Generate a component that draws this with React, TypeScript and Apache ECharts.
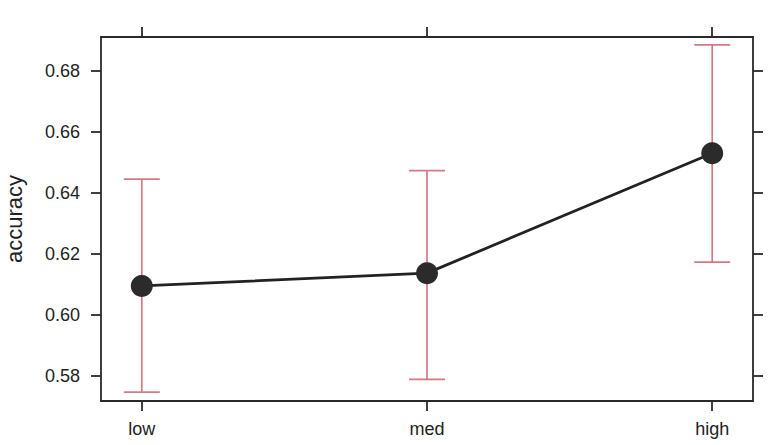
import React, { useEffect, useRef } from "react";
import * as echarts from "echarts";

const categories = ["low", "med", "high"];
const categoryPositions = [1, 2, 3];
const meanAccuracy = [0.6095, 0.6137, 0.653];
const lowerBound = [0.5747, 0.5789, 0.6173];
const upperBound = [0.6445, 0.6473, 0.6885];
const yTicks = [0.58, 0.6, 0.62, 0.64, 0.66, 0.68];

export default function App() {
  const ref = useRef<HTMLDivElement>(null);

  useEffect(() => {
    if (!ref.current) return;
    const chart = echarts.init(ref.current, null, { renderer: "svg" });

    const axisColor = "#2a2a2a";
    const textColor = "#222";
    const font = "Liberation Sans, Arial, sans-serif";

    const lineData = categoryPositions.map((x, i) => [x, meanAccuracy[i]]);
    const errData = categoryPositions.map((x, i) => [x, lowerBound[i], upperBound[i]]);

    const xLabel = (v: number) => {
      const idx = categoryPositions.indexOf(Math.round(v));
      return idx >= 0 ? categories[idx] : "";
    };

    const option: any = {
      animation: false,
      backgroundColor: "#fff",
      grid: {
        left: 101,
        top: 37,
        width: 652,
        height: 364,
        containLabel: false,
        outerBoundsMode: "none",
      },
      xAxis: [
        {
          type: "value",
          min: 0.857,
          max: 3.143,
          position: "bottom",
          splitLine: { show: false },
          axisLine: { show: true, onZero: false, lineStyle: { color: axisColor, width: 1.8 } },
          axisTick: {
            show: true,
            length: 10,
            customValues: categoryPositions,
            lineStyle: { color: axisColor, width: 1.8 },
          },
          axisLabel: {
            show: true,
            customValues: categoryPositions,
            formatter: xLabel,
            margin: 19,
            color: textColor,
            fontSize: 18,
            fontFamily: font,
          },
        },
        {
          type: "value",
          min: 0.857,
          max: 3.143,
          position: "top",
          splitLine: { show: false },
          axisLine: { show: true, onZero: false, lineStyle: { color: axisColor, width: 1.8 } },
          axisTick: {
            show: true,
            length: 10,
            customValues: categoryPositions,
            lineStyle: { color: axisColor, width: 1.8 },
          },
          axisLabel: { show: false },
        },
      ],
      yAxis: [
        {
          type: "value",
          min: 0.5718,
          max: 0.6911,
          position: "left",
          name: "accuracy",
          nameLocation: "middle",
          nameGap: 76,
          nameTextStyle: { color: textColor, fontSize: 22, fontFamily: font },
          splitLine: { show: false },
          axisLine: { show: true, onZero: false, lineStyle: { color: axisColor, width: 1.8 } },
          axisTick: {
            show: true,
            length: 10,
            customValues: yTicks,
            lineStyle: { color: axisColor, width: 1.8 },
          },
          axisLabel: {
            show: true,
            customValues: yTicks,
            formatter: (v: number) => v.toFixed(2),
            margin: 21,
            color: textColor,
            fontSize: 18,
            fontFamily: font,
          },
        },
        {
          type: "value",
          min: 0.5718,
          max: 0.6911,
          position: "right",
          splitLine: { show: false },
          axisLine: { show: true, onZero: false, lineStyle: { color: axisColor, width: 1.8 } },
          axisTick: {
            show: true,
            length: 10,
            customValues: yTicks,
            lineStyle: { color: axisColor, width: 1.8 },
          },
          axisLabel: { show: false },
        },
      ],
      series: [
        {
          type: "custom",
          xAxisIndex: 0,
          yAxisIndex: 0,
          z: 1,
          data: errData,
          encode: { x: 0, y: [1, 2] },
          renderItem: (params: any, api: any) => {
            const x = api.value(0);
            const lo = api.coord([x, api.value(1)]);
            const hi = api.coord([x, api.value(2)]);
            const half = 18;
            const style = { stroke: "#d27a84", lineWidth: 1.7 };
            return {
              type: "group",
              children: [
                { type: "line", shape: { x1: lo[0], y1: lo[1], x2: hi[0], y2: hi[1] }, style },
                { type: "line", shape: { x1: lo[0] - half, y1: lo[1], x2: lo[0] + half, y2: lo[1] }, style },
                { type: "line", shape: { x1: hi[0] - half, y1: hi[1], x2: hi[0] + half, y2: hi[1] }, style },
              ],
            };
          },
        },
        {
          type: "line",
          xAxisIndex: 0,
          yAxisIndex: 0,
          z: 3,
          data: lineData,
          symbol: "circle",
          symbolSize: 22,
          itemStyle: { color: "#2b2b2b" },
          lineStyle: { color: "#222", width: 2.8 },
        },
      ],
    };

    chart.setOption(option);
    return () => chart.dispose();
  }, []);

  return (
    <div
      ref={ref}
      style={{ position: "fixed", left: 0, top: 0, width: 780, height: 445, background: "#fff" }}
    />
  );
}
